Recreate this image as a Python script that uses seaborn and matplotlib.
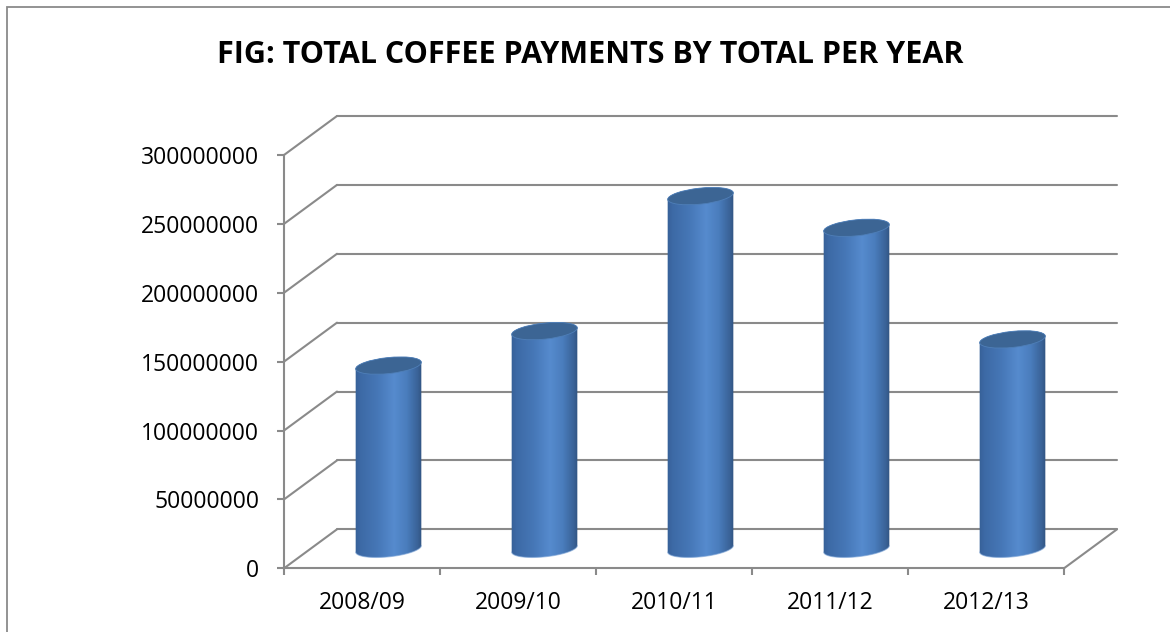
import numpy as np
import pandas as pd
import matplotlib
matplotlib.use("Agg")
import matplotlib.pyplot as plt
import seaborn as sns
from matplotlib.patches import ConnectionPatch, Rectangle, PathPatch, Ellipse
from matplotlib.path import Path
from matplotlib.transforms import IdentityTransform
from matplotlib.colors import LinearSegmentedColormap

# ---------------- data ----------------
years = ["2008/09", "2009/10", "2010/11", "2011/12", "2012/13"]
payments = [133000000, 158000000, 256000000, 233000000, 152000000]
y_ticks = [0, 50000000, 100000000, 150000000, 200000000, 250000000, 300000000]
title = "FIG: TOTAL COFFEE PAYMENTS BY TOTAL PER YEAR"

# ---------------- style ----------------
sns.set_style("white")
plt.rcParams['font.family'] = ['Open Sans', 'DejaVu Sans']
GRID = "#8a8a8a"

W, H, DPI = 1170, 632, 100
fig = plt.figure(figsize=(W / DPI, H / DPI), dpi=DPI)
fig.patch.set_facecolor("white")

# front plane (pixels, y from top)
FX0, FX1, FY0, FY1 = 284, 1064, 568.3, 155
DX, DY = 53, 39  # depth offset of the back wall
YMAX = y_ticks[-1]
PX_PER_UNIT = (FY0 - FY1) / YMAX
YLOW_MID = -30000000  # extra room below the floor for the cylinder bases


def rect_at(ox, oy, ylow=0):
    extra = -ylow * PX_PER_UNIT
    return [(FX0 + ox) / W, (H - (FY0 - oy + extra)) / H,
            (FX1 - FX0) / W, (FY0 - FY1 + extra) / H]


ax_back = fig.add_axes(rect_at(DX, DY))
ax_mid = fig.add_axes(rect_at(DX / 2, DY / 2, YLOW_MID))
ax = fig.add_axes(rect_at(0, 0))

XL = (-0.5, len(years) - 0.5)
YL = (0, YMAX)
YL_MID = (YLOW_MID, YMAX)
for a_ in (ax_back, ax_mid, ax):
    a_.set_facecolor("none")

# back wall gridlines
for v in y_ticks:
    ax_back.axhline(v, color=GRID, lw=1.5, clip_on=False, zorder=1)
ax_back.set_xlim(*XL)
ax_back.set_ylim(*YL)
ax_back.axis("off")

# bars (cylinders) at mid depth
df = pd.DataFrame({"year": years, "payments": payments})
sns.barplot(data=df, x="year", y="payments", ax=ax_mid, width=0.423,
            color="#4a7cbc", saturation=1)
ax_mid.set_xlim(*XL)
ax_mid.set_ylim(*YL_MID)

cyl_cmap = LinearSegmentedColormap.from_list(
    "cyl",
    [(0.0, "#335b90"), (0.12, "#3d6aa6"), (0.35, "#4677b7"),
     (0.58, "#568bce"), (0.75, "#4a7dbd"), (0.9, "#3a6398"), (1.0, "#2b4972")])
grad = np.linspace(0, 1, 256).reshape(1, -1)

theta = np.deg2rad(6)
b_px = 8.0
patches = list(ax_mid.patches)
for p in patches:
    w = p.get_width()
    xc = p.get_x() + w / 2
    top = p.get_height()
    T = ax_mid.transData.transform((xc, top))
    B = ax_mid.transData.transform((xc, 0))
    a_px = ax_mid.transData.transform((p.get_x() + w, 0))[0] - B[0]

    t0 = np.arctan2(-b_px * np.sin(theta), a_px * np.cos(theta))

    def ell(c, ts):
        x = c[0] + a_px * np.cos(ts) * np.cos(theta) - b_px * np.sin(ts) * np.sin(theta)
        y = c[1] + a_px * np.cos(ts) * np.sin(theta) + b_px * np.sin(ts) * np.cos(theta)
        return np.column_stack([x, y])

    upper = ell(T, np.linspace(t0, t0 + np.pi, 80))
    lower = ell(B, np.linspace(t0 + np.pi, t0 + 2 * np.pi, 80))
    verts = np.vstack([upper, lower, upper[:1]])
    codes = [Path.MOVETO] + [Path.LINETO] * (len(verts) - 2) + [Path.CLOSEPOLY]
    clip = PathPatch(Path(verts, codes), transform=IdentityTransform(),
                     facecolor="none", edgecolor="none")

    im = ax_mid.imshow(grad, extent=(p.get_x() - 0.02, p.get_x() + w + 0.02,
                                     YLOW_MID, top + 20000000),
                       aspect="auto", cmap=cyl_cmap, origin="lower",
                       interpolation="bilinear", zorder=2)
    im.set_clip_path(clip)

    # faint light rim along the bottom of the base
    rim = ell(B, np.linspace(t0 + np.pi, t0 + 2 * np.pi, 80))
    ax_mid.plot(rim[:, 0], rim[:, 1], transform=IdentityTransform(),
                color="#7fa6d8", lw=0.8, alpha=0.6, zorder=2.5)

    cap = Ellipse(xy=T, width=2 * a_px, height=2 * b_px, angle=np.rad2deg(theta),
                  transform=IdentityTransform(), facecolor="#3c6594",
                  edgecolor="#4f7fb8", lw=0.6, zorder=3)
    ax_mid.add_artist(cap)
    p.set_visible(False)

ax_mid.set_xlim(*XL)
ax_mid.set_ylim(*YL_MID)
ax_mid.axis("off")

# front axes: ticks, labels, floor front edge, left axis
ax.set_xlim(*XL)
ax.set_ylim(*YL)
ax.set_yticks(y_ticks)
ax.set_yticklabels([str(v) for v in y_ticks])
ax.set_xticks(range(len(years)))
ax.set_xticklabels(years)
ax.set_xticks(np.arange(-0.5, len(years), 1.0), minor=True)
for s in ("top", "right"):
    ax.spines[s].set_visible(False)
for s in ("left", "bottom"):
    ax.spines[s].set_color(GRID)
    ax.spines[s].set_linewidth(1.5)
ax.tick_params(axis="x", which="major", bottom=True, length=0, pad=16,
               labelsize=16.5, labelcolor="black")
ax.tick_params(axis="x", which="minor", bottom=True, length=5, width=1.5,
               color=GRID, direction="out")
ax.tick_params(axis="y", which="major", left=True, length=5, width=1.5,
               color=GRID, direction="out", pad=13, labelsize=16.5,
               labelcolor="black")
ax.grid(False)

# side wall diagonals and floor right edge
for v in y_ticks:
    con = ConnectionPatch(xyA=(XL[0], v), coordsA=ax.transData,
                          xyB=(XL[0], v), coordsB=ax_back.transData,
                          color=GRID, lw=1.5)
    fig.add_artist(con)
con = ConnectionPatch(xyA=(XL[1], 0), coordsA=ax.transData,
                      xyB=(XL[1], 0), coordsB=ax_back.transData,
                      color=GRID, lw=1.5)
fig.add_artist(con)

# title
fig.text(590 / W, 1 - 63 / H, title, ha="center", va="baseline",
         fontsize=22, fontweight="bold", color="black")

# outer border (partially outside canvas, as in the reference)
fig.add_artist(Rectangle((7.3 / W, -0.1), 1.2, 1.1 - 7.3 / H,
                         transform=fig.transFigure, fill=False,
                         edgecolor="#8a8a8a", lw=1.3))

fig.savefig("out.png", dpi=DPI)
